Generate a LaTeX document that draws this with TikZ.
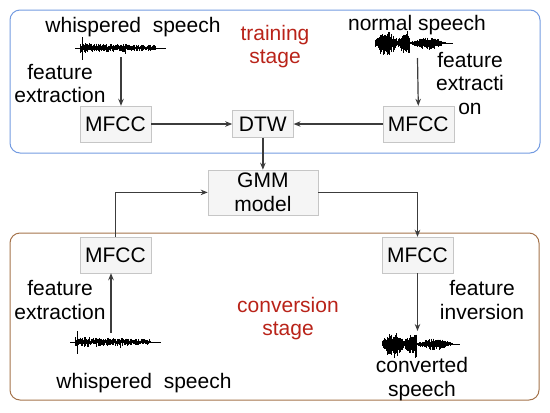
\documentclass[tikz,border=0pt]{standalone}
\usepackage{fontspec}
\setmainfont{Liberation Sans}
\usetikzlibrary{positioning,arrows.meta}
\definecolor{trainblue}{RGB}{115,155,225}
\definecolor{convbrown}{RGB}{165,115,75}
\definecolor{stagered}{RGB}{185,35,25}
\definecolor{arrgray}{RGB}{60,60,60}
\newcommand{\whisperwave}[2]{%
  \draw[wave] (#1,#2) -- ({#1+91},#2);
  \foreach \i in {0,...,107}{
    \pgfmathsetmacro{\wup}{(1.5+4*rnd)*(1-\i/220)}
    \pgfmathsetmacro{\wdn}{(1.5+4*rnd)*(1-\i/220)}
    \draw[wave] ({#1+5+0.7*\i},{#2-\wup}) -- ({#1+5+0.7*\i},{#2+\wdn});
  }
  \draw[wave] ({#1+7},{#2-11}) -- ({#1+7},{#2+12});
  \draw[wave] ({#1+50},#2) -- ({#1+50},{#2+6});
}
\newcommand{\speechwave}[2]{%
  \draw[wave] (#1,#2) -- ({#1+78},#2);
  \foreach \i in {0,...,100}{
    \pgfmathsetmacro{\wpos}{\i/100}
    \pgfmathsetmacro{\wenv}{(\wpos<0.5)*(3+9*abs(sin(\wpos*560)))+(1-(\wpos<0.5))*(1+4.5*sin((\wpos-0.5)*360))}
    \pgfmathsetmacro{\wup}{\wenv*(0.45+0.55*rnd)}
    \pgfmathsetmacro{\wdn}{\wenv*(0.5+0.7*rnd)}
    \draw[wave] ({#1+0.7*\i},{#2-\wup}) -- ({#1+0.7*\i},{#2+\wdn});
  }
}
\begin{document}
\begin{tikzpicture}[x=1pt,y=-1pt,font={\fontsize{21}{23.5}\selectfont},
  box/.style={draw=gray!45,fill=gray!8,minimum width=71pt,minimum height=36pt,inner sep=0pt,align=center},
  arr/.style={-{Stealth[length=7pt,width=5.5pt]},draw=arrgray,line width=1.2pt},
  lbl/.style={align=center,inner sep=0pt},
  stagelbl/.style={lbl,text=stagered},
  wave/.style={line width=0.75pt}]
\useasboundingbox (0,0) rectangle (550,413);
\pgfmathsetseed{11}
\draw[trainblue,line width=1pt,rounded corners=10pt] (10,10) rectangle (540,153);
\draw[convbrown,line width=1pt,rounded corners=10pt] (10,233) rectangle (539,400);
\node[lbl] (whispertop) at (133,27) {whispered\ \ speech};
\node[lbl] (normal) at (417,25) {normal speech};
\node[stagelbl] (training) at (275,46.5) {training\\stage};
\node[lbl] (extrw) at (60,83.5) {feature\\extraction};
\node[lbl] (extrn) at (470,83.5) {feature\\extracti\\on};
\node[box] (mfccw) at (115.5,124) {MFCC};
\node[box,minimum width=61pt,minimum height=27pt,right=81pt of mfccw] (dtw) {DTW};
\node[box,right=89pt of dtw] (mfccn) {MFCC};
\node[box,minimum width=110pt,minimum height=45pt,below=32pt of dtw] (gmm) {GMM\\model};
\node[box] (mfccin) at (115.5,255) {MFCC};
\node[box] (mfccout) at (417.5,255) {MFCC};
\node[lbl] (extrin) at (60,300) {feature\\extraction};
\node[stagelbl] (conversion) at (288,318.5) {conversion\\stage};
\node[lbl] (inversion) at (482,300) {feature\\inversion};
\node[lbl] (whisperbot) at (144,383) {whispered\ \ speech};
\node[lbl] (converted) at (422,379) {converted\\speech};
\whisperwave{75}{48}
\speechwave{375}{43}
\whisperwave{70}{342}
\speechwave{382}{344}
\coordinate (wavw) at (121,57);
\coordinate (wavn) at (417.5,58);
\coordinate (wavin) at (111,333);
\coordinate (wavout) at (417.5,331);
\draw[arr] (wavw) -- (wavw |- mfccw.north);
\draw[arr] (wavn) -- (mfccn.north);
\draw[arr] (mfccw) -- (dtw);
\draw[arr] (mfccn) -- (dtw);
\draw[arr] (dtw) -- (gmm);
\draw[arr] (wavin) -- (wavin |- mfccin.south);
\draw[arr] (mfccin.north) |- (gmm.west);
\draw[arr] (gmm.east) -| (mfccout.north);
\draw[arr] (mfccout.south) -- (wavout);
\end{tikzpicture}
\end{document}
